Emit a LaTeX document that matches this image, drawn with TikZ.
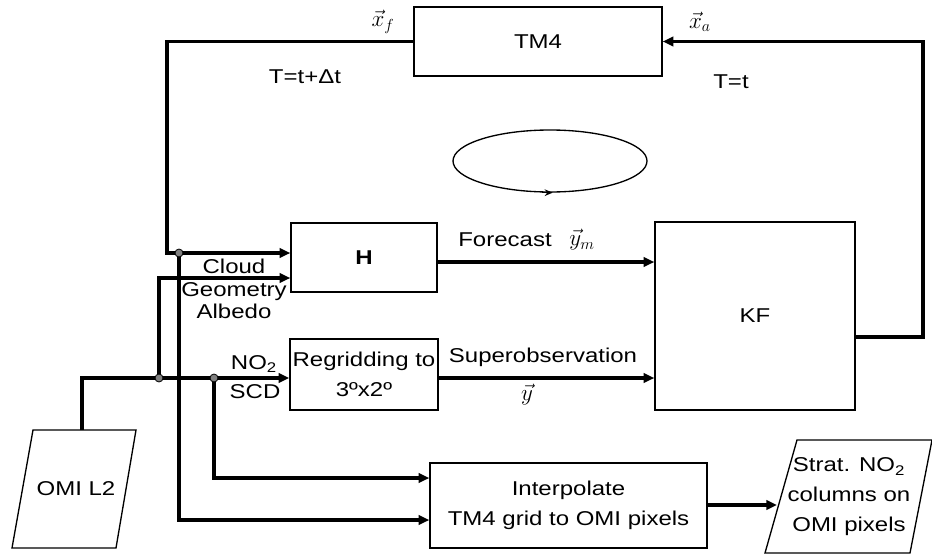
\documentclass[tikz,border=0pt]{standalone}
\usepackage{fontspec}
\setmainfont[FakeStretch=1.2]{Liberation Sans}
\usetikzlibrary{arrows.meta,shapes.geometric}

\begin{document}
\begin{tikzpicture}[
  x=0.75pt,y=-0.75pt,
  every node/.style={font=\fontsize{15}{22.5}\selectfont},
  block/.style={draw,line width=1pt,inner sep=2pt,align=center},
  paratext/.style={align=center,inner sep=0pt},
  arr/.style={-{Triangle[length=8pt,width=7pt]},line width=2.6pt},
  dot/.style={circle,draw,fill=gray,line width=0.6pt,minimum size=6pt,inner sep=0pt},
  vlbl/.style={font=\fontsize{17}{20}\selectfont}
]
\useasboundingbox (0,0) rectangle (932,557);

% boxes
\node[block,minimum width=186pt,minimum height=51.75pt] (tm4) at (538,41.5) {TM4};
\node[block,minimum width=109.5pt,minimum height=51.75pt] (h) at (364,257.5) {\textbf{H}};
\node[block,minimum width=109.5pt,minimum height=53.25pt] (regrid) at (364,374.5)
  {Regridding to\\3ºx2º};
\node[block,minimum width=150pt,minimum height=141pt] (kf) at (755,316) {KF};
\node[block,minimum width=207.75pt,minimum height=63.75pt] (interp) at (568.5,505.5)
  {Interpolate\\TM4 grid to OMI pixels};

% parallelograms
\node[paratext] (omi) at (76,489) {OMI L2};
\draw[line width=1pt] (33,430) coordinate (omitop) -- (136,430) -- (116,548)
  -- (12,548) -- cycle;
\node[paratext] (strat) at (849,497) {Strat. NO\textsubscript{2}\\columns on\\OMI pixels};
\draw[line width=1pt] (797,440) -- (932,440) -- (910,553) -- (765,553) -- cycle;
\coordinate (stratin) at (777,505);

\node[ellipse,draw,line width=1pt,minimum width=145.5pt,minimum height=46.5pt,
  inner sep=0pt] (loop) at (550,161) {};
\draw[-{Stealth[length=6pt,width=5pt]},line width=1pt]
  ([xshift=-6pt]loop.south) -- ([xshift=2pt]loop.south);

% helper points
\coordinate (rt) at (923,337);
\coordinate (lt) at (167,0);
\coordinate (j1) at (179,253);
\coordinate (j2) at (159,378);
\coordinate (j3) at (214,378);
\coordinate (om) at (82,430);
\coordinate (fc) at (0,262);
\coordinate (geo) at (0,278);
\coordinate (obs) at (0,378);
\coordinate (up) at (0,478);
\coordinate (low) at (0,520);

% connectors
\draw[arr] (kf.east |- rt) -- (rt) -- (rt |- tm4.east) -- (tm4.east);
\draw[arr] (tm4.west) -- (tm4.west -| lt) -- (lt |- j1) -- (j1 -| h.west);
\draw[arr] (h.east |- fc) -- (fc -| kf.west);
\draw[arr] (regrid.east |- obs) -- (obs -| kf.west);
\draw[arr] (om) -- (om |- obs) -- (obs -| regrid.west);
\draw[arr] (j2) -- (j2 |- geo) -- (geo -| h.west);
\draw[arr] (j1) -- (j1 |- low) -- (low -| interp.west);
\draw[arr] (j3) -- (j3 |- up) -- (up -| interp.west);
\draw[arr] (interp.east |- stratin) -- (stratin);

\node[dot] (d1) at (j1) {};
\node[dot] (d2) at (j2) {};
\node[dot] (d3) at (j3) {};

% labels
\node[vlbl] (xf) at (383,22) {$\vec{x}_f$};
\node (tdt) at (305,77) {T=t+Δt};
\node[vlbl] (xa) at (700,22) {$\vec{x}_a$};
\node (tt) at (731,82) {T=t};
\node (fclbl) at (505,240) {Forecast};
\node[vlbl] (ym) at (582,240) {$\vec{y}_m$};
\node (solbl) at (543,357) {Superobservation};
\node[vlbl] (yv) at (527,395) {$\vec{y}$};
\node[align=center,font=\fontsize{15}{17}\selectfont] (anc) at (234,289)
  {Cloud\\Geometry\\Albedo};
\node (no2) at (254,364) {NO\textsubscript{2}};
\node (scd) at (255,392) {SCD};
\end{tikzpicture}
\end{document}
